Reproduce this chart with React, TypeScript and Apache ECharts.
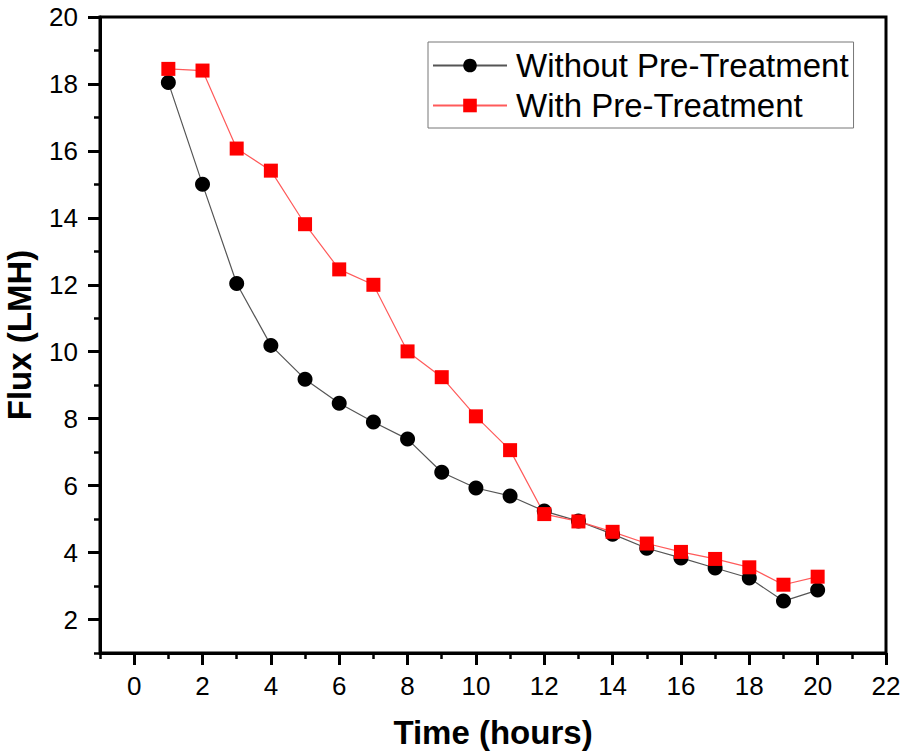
import React, { useEffect, useRef } from "react";
import * as echarts from "echarts";

const hours = [1, 2, 3, 4, 5, 6, 7, 8, 9, 10, 11, 12, 13, 14, 15, 16, 17, 18, 19, 20];
const withoutPre = [18.04, 15.0, 12.04, 10.19, 9.18, 8.46, 7.9, 7.39, 6.4, 5.93, 5.69, 5.24, 4.94, 4.55, 4.13, 3.84, 3.54, 3.24, 2.55, 2.88];
const withPre = [18.45, 18.4, 16.07, 15.41, 13.81, 12.46, 12.0, 10.01, 9.24, 8.07, 7.06, 5.15, 4.93, 4.62, 4.27, 4.02, 3.81, 3.56, 3.04, 3.28];

const xMajorTicks = [0, 2, 4, 6, 8, 10, 12, 14, 16, 18, 20, 22];
const xMinorTicks = [-1, 1, 3, 5, 7, 9, 11, 13, 15, 17, 19, 21];
const yMajorTicks = [2, 4, 6, 8, 10, 12, 14, 16, 18, 20];
const yMinorTicks = [1, 3, 5, 7, 9, 11, 13, 15, 17, 19];

const seriesNames = ["Without Pre-Treatment", "With Pre-Treatment"];

const FONT = "Liberation Sans, Arial, sans-serif";

export default function App() {
  const ref = useRef<HTMLDivElement>(null);
  useEffect(() => {
    if (!ref.current) return;
    const chart = echarts.init(ref.current, null, { renderer: "svg" });
    const xMin = -1, xMax = 22, yMin = 1, yMax = 20;
    chart.setOption({
      animation: false,
      backgroundColor: "#fff",
      grid: {
        left: 100,
        right: 19,
        top: 17,
        bottom: 103,
        containLabel: false,
        outerBoundsMode: "none",
        show: true,
        borderColor: "#000",
        borderWidth: 3,
        backgroundColor: "transparent",
      },
      legend: {
        left: 428,
        top: 42,
        orient: "vertical",
        data: seriesNames,
        itemWidth: 74,
        itemHeight: 17,
        itemGap: 7,
        padding: [7, 5, 6, 4],
        borderColor: "#777",
        borderWidth: 1,
        textStyle: { fontFamily: FONT, fontSize: 33, color: "#000", padding: [0, 0, 0, 4] },
      },
      xAxis: [
        {
          type: "value",
          min: xMin,
          max: xMax,
          position: "bottom",
          name: "Time (hours)",
          nameLocation: "middle",
          nameGap: 63,
          nameTextStyle: { fontFamily: FONT, fontSize: 33, fontWeight: "bold", color: "#000" },
          axisLine: { show: true, onZero: false, lineStyle: { color: "#000", width: 3 } },
          axisTick: { show: true, inside: false, length: 12, lineStyle: { width: 3, color: "#000" }, customValues: xMajorTicks },
          axisLabel: { show: true, margin: 20, fontFamily: FONT, fontSize: 26, color: "#000", customValues: xMajorTicks },
          splitLine: { show: false },
        },
        {
          type: "value",
          min: xMin,
          max: xMax,
          position: "bottom",
          axisLine: { show: false, onZero: false },
          axisTick: { show: true, inside: false, length: 6, lineStyle: { width: 2.5, color: "#000" }, customValues: xMinorTicks },
          axisLabel: { show: false },
          splitLine: { show: false },
        },
      ],
      yAxis: [
        {
          type: "value",
          min: yMin,
          max: yMax,
          position: "left",
          name: "Flux (LMH)",
          nameLocation: "middle",
          nameGap: 64,
          nameRotate: 90,
          nameTextStyle: { fontFamily: FONT, fontSize: 33, fontWeight: "bold", color: "#000" },
          axisLine: { show: true, onZero: false, lineStyle: { color: "#000", width: 3 } },
          axisTick: { show: true, inside: false, length: 12, lineStyle: { width: 3, color: "#000" }, customValues: yMajorTicks },
          axisLabel: { show: true, margin: 22, fontFamily: FONT, fontSize: 26, color: "#000", customValues: yMajorTicks },
          splitLine: { show: false },
        },
        {
          type: "value",
          min: yMin,
          max: yMax,
          position: "left",
          axisLine: { show: false, onZero: false },
          axisTick: { show: true, inside: false, length: 6, lineStyle: { width: 2.5, color: "#000" }, customValues: yMinorTicks },
          axisLabel: { show: false },
          splitLine: { show: false },
        },
      ],
      series: [
        {
          name: seriesNames[0],
          type: "line",
          xAxisIndex: 0,
          yAxisIndex: 0,
          data: hours.map((h, i) => [h, withoutPre[i]]),
          symbol: "circle",
          symbolSize: 15,
          itemStyle: { color: "#000" },
          lineStyle: { color: "#555", width: 1.2 },
        },
        {
          name: seriesNames[1],
          type: "line",
          xAxisIndex: 0,
          yAxisIndex: 0,
          data: hours.map((h, i) => [h, withPre[i]]),
          symbol: "rect",
          symbolSize: 14,
          itemStyle: { color: "#ff0000" },
          lineStyle: { color: "#ff5a5a", width: 1.2 },
        },
      ],
    });
    return () => chart.dispose();
  }, []);
  return <div ref={ref} style={{ position: "fixed", left: 0, top: 0, width: 905, height: 756 }} />;
}
